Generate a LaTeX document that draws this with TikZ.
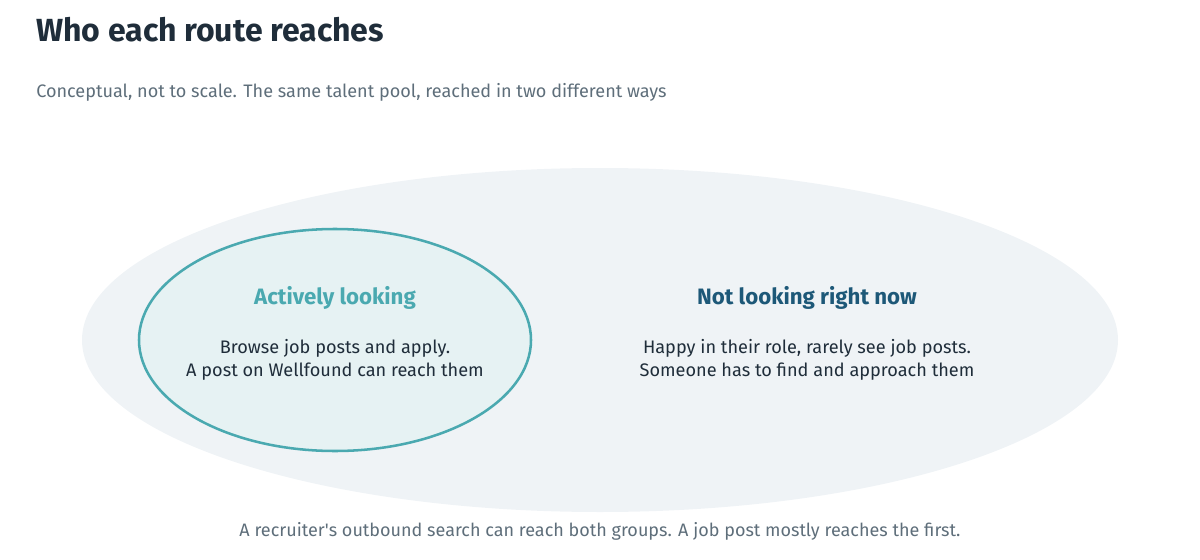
\documentclass[tikz,border=0pt]{standalone}
\usepackage{fontspec}
\setmainfont{Fira Sans}
\definecolor{inkdark}{HTML}{1F2D3A}
\definecolor{inkgray}{HTML}{5E6E7A}
\definecolor{poolfill}{HTML}{EFF3F6}
\definecolor{activefill}{HTML}{E6F2F3}
\definecolor{activeline}{HTML}{4AA9B0}
\definecolor{passiveblue}{HTML}{1D5878}
\tikzset{
  grouphead/.style={font=\fontsize{16.7}{19}\selectfont\bfseries, anchor=center},
  groupbody/.style={font=\fontsize{13.6}{17.25}\selectfont, text=inkdark, align=center, anchor=center},
}
\begin{document}
\begin{tikzpicture}[x=0.75pt, y=-0.75pt, line cap=round, line join=round]
  \useasboundingbox (0,0) rectangle (1200,560);

  % titolo
  \node[anchor=base west, inner sep=0, text=inkdark, font=\fontsize{24}{27}\selectfont\bfseries] (title) at (36,42) {Who each route reaches};
  \node[anchor=base west, inner sep=0, text=inkgray, font=\fontsize{13.55}{16}\selectfont] (subtitle) at (36,98) {Conceptual, not to scale. The same talent pool, reached in two different ways};

  % insieme grande
  \fill[poolfill] (600,340) ellipse [x radius=518, y radius=172];

  % insieme attivo
  \draw[activeline, line width=1.9pt, fill=activefill] (335,340) ellipse [x radius=196, y radius=111];

  % etichette
  \node[grouphead, text=activeline] (activehead) at (335,298) {Actively looking};
  \node[groupbody] (activebody) at (335,360) {Browse job posts and apply.\\A post on Wellfound can reach them};
  \node[grouphead, text=passiveblue] (passivehead) at (807,298) {Not looking right now};
  \node[groupbody] (passivebody) at (807,360) {Happy in their role, rarely see job posts.\\Someone has to find and approach them};

  % nota
  \node[anchor=base, inner sep=0, text=inkgray, font=\fontsize{13.5}{16}\selectfont] (footnote) at (600,536) {A recruiter\textquotesingle s outbound search can reach both groups. A job post mostly reaches the first.};
\end{tikzpicture}
\end{document}
